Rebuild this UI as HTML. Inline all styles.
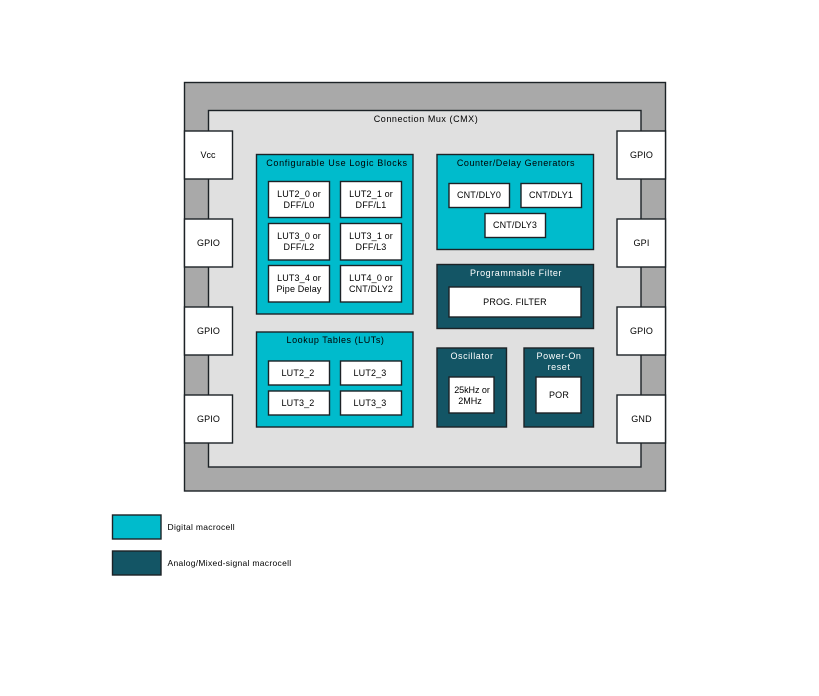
<!DOCTYPE html>
<html>
<head>
<meta charset="utf-8">
<style>
html,body{margin:0;padding:0;background:#fff;width:819px;height:696px;overflow:hidden}
svg{display:block}
text{font-family:"Liberation Sans",sans-serif;font-size:9px;letter-spacing:.15px;fill:#000;text-anchor:middle}
.t{letter-spacing:.55px}
.l{text-anchor:start;letter-spacing:.3px;font-size:8.5px}
.w{fill:#fff}
rect{stroke:#1c2226;stroke-width:1.4}
.b{fill:#fff}
.d{fill:#00bbcc}
.a{fill:#135565}
</style>
</head>
<body>
<svg width="819" height="696" viewBox="0 0 819 696" xmlns="http://www.w3.org/2000/svg">
<rect x="184.5" y="82.5" width="481" height="408.5" fill="#a9a9a9"/>
<rect x="208.5" y="110.5" width="432.5" height="356.5" fill="#e0e0e0"/>
<text class="t" x="426" y="122">Connection Mux (CMX)</text>

<rect class="b" x="184.5" y="131" width="48" height="48"/><text x="208" y="158" style="letter-spacing:0">Vcc</text>
<rect class="b" x="184.5" y="219" width="48" height="48"/><text x="208.5" y="246">GPIO</text>
<rect class="b" x="184.5" y="307" width="48" height="48"/><text x="208.5" y="334">GPIO</text>
<rect class="b" x="184.5" y="395" width="48" height="48"/><text x="208.5" y="422">GPIO</text>
<rect class="b" x="617" y="131" width="48.5" height="48"/><text x="641.5" y="158">GPIO</text>
<rect class="b" x="617" y="219" width="48.5" height="48"/><text x="641.5" y="246">GPI</text>
<rect class="b" x="617" y="307" width="48.5" height="48"/><text x="641.5" y="334">GPIO</text>
<rect class="b" x="617" y="395" width="48.5" height="48"/><text x="641.5" y="422">GND</text>

<rect class="d" x="256.5" y="154.5" width="156.5" height="159.5"/>
<text class="t" x="337" y="166" style="letter-spacing:.65px">Configurable Use Logic Blocks</text>
<rect class="b" x="268.5" y="181.5" width="61" height="36"/><text x="299" y="197">LUT2_0 or</text><text x="299" y="208">DFF/L0</text>
<rect class="b" x="340.5" y="181.5" width="61" height="36"/><text x="371" y="197">LUT2_1 or</text><text x="371" y="208">DFF/L1</text>
<rect class="b" x="268.5" y="223.5" width="61" height="36.5"/><text x="299" y="239">LUT3_0 or</text><text x="299" y="250">DFF/L2</text>
<rect class="b" x="340.5" y="223.5" width="61" height="36.5"/><text x="371" y="239">LUT3_1 or</text><text x="371" y="250">DFF/L3</text>
<rect class="b" x="268.5" y="265.5" width="61" height="36.5"/><text x="299" y="281">LUT3_4 or</text><text x="299" y="292">Pipe Delay</text>
<rect class="b" x="340.5" y="265.5" width="61" height="36.5"/><text x="371" y="281">LUT4_0 or</text><text x="371" y="292">CNT/DLY2</text>

<rect class="d" x="256.5" y="332" width="156.5" height="95"/>
<text class="t" x="335.5" y="343">Lookup Tables (LUTs)</text>
<rect class="b" x="268.5" y="361" width="61" height="24"/><text x="298" y="376">LUT2_2</text>
<rect class="b" x="340.5" y="361" width="61" height="24"/><text x="370" y="376">LUT2_3</text>
<rect class="b" x="268.5" y="391" width="61" height="24"/><text x="298" y="406">LUT3_2</text>
<rect class="b" x="340.5" y="391" width="61" height="24"/><text x="370" y="406">LUT3_3</text>

<rect class="d" x="437" y="154.5" width="156.5" height="95"/>
<text class="t" x="516" y="166">Counter/Delay Generators</text>
<rect class="b" x="449" y="183.5" width="60.5" height="24"/><text x="479" y="198">CNT/DLY0</text>
<rect class="b" x="521" y="183.5" width="60.5" height="24"/><text x="551" y="198">CNT/DLY1</text>
<rect class="b" x="485" y="213.5" width="60.5" height="24"/><text x="515" y="228">CNT/DLY3</text>

<rect class="a" x="437" y="264.5" width="156.5" height="64"/>
<text class="w t" x="516" y="276">Programmable Filter</text>
<rect class="b" x="449" y="287" width="132" height="30"/><text x="515" y="305">PROG. FILTER</text>

<rect class="a" x="437" y="348" width="69.5" height="79"/>
<text class="w t" x="472" y="359">Oscillator</text>
<rect class="b" x="449" y="377" width="45" height="36"/><text x="472" y="393" style="letter-spacing:-.05px">25kHz or</text><text x="470" y="404" style="letter-spacing:0">2MHz</text>

<rect class="a" x="524" y="348" width="69.5" height="79"/>
<text class="w t" x="559" y="359">Power-On</text><text class="w t" x="559" y="370">reset</text>
<rect class="b" x="536" y="377" width="45" height="36"/><text x="559" y="398">POR</text>

<rect class="d" x="112.5" y="515" width="48.5" height="24"/>
<text class="l" x="167.5" y="530">Digital macrocell</text>
<rect class="a" x="112.5" y="551" width="48.5" height="24"/>
<text class="l" x="167.5" y="566">Analog/Mixed-signal macrocell</text>
</svg>
</body>
</html>
